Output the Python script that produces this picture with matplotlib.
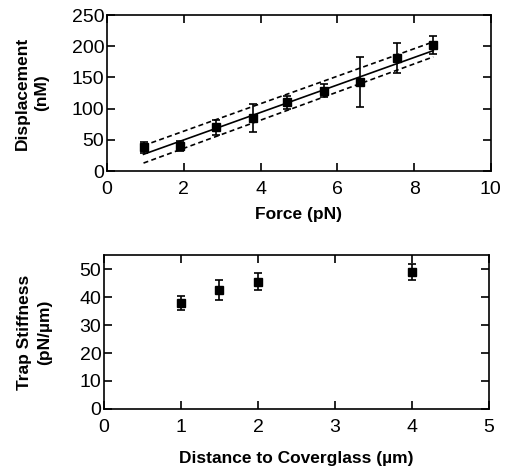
import matplotlib.pyplot as plt

plt.rcParams['font.family'] = ['Liberation Sans', 'DejaVu Sans']

# top panel: displacement vs force
force = [0.95, 1.9, 2.85, 3.8, 4.7, 5.65, 6.6, 7.55, 8.5]
disp = [38, 40, 70, 85, 110, 129, 143, 181, 202]
disp_err = [9, 8, 12, 23, 11, 10, 40, 24, 15]
fit_x = [0.95, 8.5]
fit_y = [27, 193]
fit_hi = [41, 207]
fit_lo = [13, 183]

# bottom panel: trap stiffness vs distance
dist = [1.0, 1.5, 2.0, 4.0]
stiff = [38, 42.5, 45.5, 49]
stiff_err = [2.5, 3.5, 3, 3]

fig = plt.figure(figsize=(5.05, 4.69), dpi=100)

ax1 = fig.add_axes([0.212, 0.635, 0.76, 0.333])
ax1.errorbar(force, disp, yerr=disp_err, fmt='s', color='black', ms=5.5,
             capsize=3, elinewidth=1.2, capthick=1.2)
ax1.plot(fit_x, fit_y, color='black', lw=1.2)
ax1.plot(fit_x, fit_hi, color='black', lw=1.2, ls=(0, (3, 2)))
ax1.plot(fit_x, fit_lo, color='black', lw=1.2, ls=(0, (3, 2)))
ax1.set_xlim(0, 10)
ax1.set_ylim(0, 250)
ax1.set_xticks([0, 2, 4, 6, 8, 10])
ax1.set_yticks([0, 50, 100, 150, 200, 250])
ax1.set_xlabel('Force (pN)', fontsize=12.5, fontweight='bold')
ax1.set_ylabel('Displacement\n(nM)', fontsize=12.5, fontweight='bold', linespacing=1.4)
ax1.xaxis.set_label_coords(0.5, -0.23)
ax1.yaxis.set_label_coords(-0.15, 0.5)
ax1.xaxis.label.set_va('top')

ax2 = fig.add_axes([0.206, 0.128, 0.762, 0.328])
ax2.errorbar(dist, stiff, yerr=stiff_err, fmt='s', color='black', ms=5.5,
             capsize=3, elinewidth=1.2, capthick=1.2)
ax2.set_xlim(0, 5)
ax2.set_ylim(0, 55)
ax2.set_xticks([0, 1, 2, 3, 4, 5])
ax2.set_yticks([0, 10, 20, 30, 40, 50])
ax2.set_xlabel('Distance to Coverglass (\u00b5m)', fontsize=12.5, fontweight='bold')
ax2.set_ylabel('Trap Stiffness\n(pN/\u00b5m)', fontsize=12.5, fontweight='bold', linespacing=1.4)
ax2.xaxis.set_label_coords(0.5, -0.27)
ax2.yaxis.set_label_coords(-0.135, 0.5)
ax2.xaxis.label.set_va('top')

for ax in (ax1, ax2):
    ax.tick_params(direction='in', top=True, right=True, length=6, width=1.2,
                   labelsize=14, pad=2)
    ax.tick_params(axis='x', pad=7)
    for s in ax.spines.values():
        s.set_linewidth(1.2)

fig.savefig('out.png', dpi=100)
